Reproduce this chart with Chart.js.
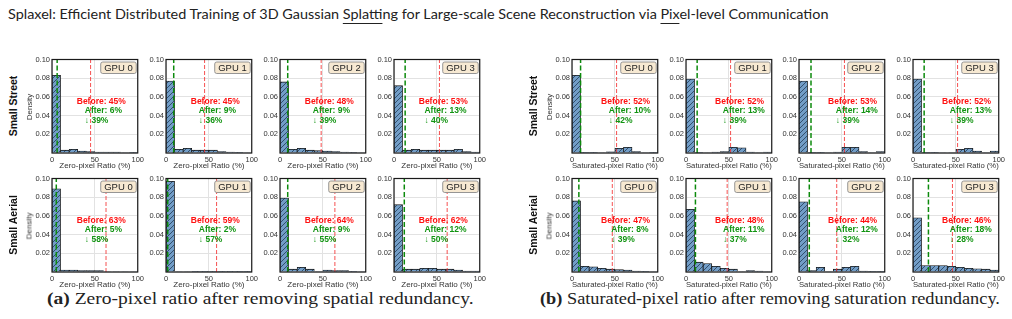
<!DOCTYPE html>
<html>
<head>
<meta charset="utf-8">
<script src="https://cdn.jsdelivr.net/npm/chart.js@4.4.0/dist/chart.umd.min.js"></script>
<style>
  body { margin: 0; width: 1012px; height: 319px; overflow: hidden; position: relative; background: #fff; font-family: "Liberation Sans", Arial, sans-serif; color: #222; }
  canvas.panel { position: absolute; }
  .rot { position: absolute; white-space: nowrap; transform: translate(-50%, -50%) rotate(-90deg); }
  .row-name { font-weight: bold; font-size: 10.5px; color: #111; }
  .dens { font-size: 8px; color: #333; }
  .fit { position: absolute; white-space: nowrap; transform-origin: left center; }
  #head { left: 8px; top: 7px; font-family: Lato, "Open Sans", sans-serif; font-size: 14px; line-height: 14px; color: #222; }
  #head u { text-decoration: underline; text-underline-offset: 4px; text-decoration-thickness: 1px; }
  .cap { top: 291px; font-family: "Liberation Serif", "DejaVu Serif", serif; font-size: 16px; line-height: 16px; color: #222; }
</style>
</head>
<body>
<div id="head" class="fit" data-w="820">Splaxel: Efficient Distributed Training of 3D Gaussian <u>Splat</u>ting for Large-scale Scene Reconstruction via <u>Pix</u>el-level Communication</div>
<div id="capA" class="fit cap" data-w="426" data-cx="260"><b>(a)</b> Zero-pixel ratio after removing spatial redundancy.</div>
<div id="capB" class="fit cap" data-w="460" data-cx="770"><b>(b)</b> Saturated-pixel ratio after removing saturation redundancy.</div>

<script>
// bin centres of the 10 histogram bins (width 10 %)
const binCenters = [5, 15, 25, 35, 45, 55, 65, 75, 85, 95];
const gpuNames = ['GPU 0', 'GPU 1', 'GPU 2', 'GPU 3'];
const rowNames = ['Small Street', 'Small Aerial'];
const xTitles = ['Zero-pixel Ratio (%)', 'Saturated-pixel Ratio (%)'];
const yTickStep = 0.02;
const yMax = 0.1;

// (a) zero-pixel ratio densities
const zeroStreet = [
  [0.083, 0.003, 0.004, 0.002, 0.0015, 0.001, 0.001, 0.001, 0.0005, 0.0003],
  [0.077, 0.004, 0.005, 0.003, 0.003, 0.003, 0.0015, 0.001, 0.0007, 0.0005],
  [0.076, 0.004, 0.005, 0.003, 0.0025, 0.002, 0.0015, 0.001, 0.0007, 0.0005],
  [0.072, 0.003, 0.004, 0.003, 0.003, 0.003, 0.003, 0.004, 0.0015, 0.001]
];
const zeroStreetBefore = [45, 45, 48, 53];
const zeroStreetAfter = [6, 9, 9, 13];

const zeroAerial = [
  [0.089, 0.002, 0.002, 0.0015, 0.0015, 0.0015, 0.0005, 0.0005, 0.0005, 0.0005],
  [0.097, 0.0005, 0.0005, 0.0004, 0.0004, 0.0003, 0.0003, 0.0003, 0.0003, 0.0003],
  [0.079, 0.003, 0.005, 0.003, 0.0005, 0.002, 0.0015, 0.0015, 0.0008, 0.0005],
  [0.072, 0.003, 0.003, 0.004, 0.004, 0.003, 0.003, 0.002, 0.001, 0.001]
];
const zeroAerialBefore = [63, 59, 64, 62];
const zeroAerialAfter = [5, 2, 9, 12];

// (b) saturated-pixel ratio densities
const satStreet = [
  [0.083, 0.0003, 0.0003, 0.0005, 0.0012, 0.005, 0.006, 0.0015, 0.0005, 0.0003],
  [0.079, 0.0003, 0.0005, 0.001, 0.0015, 0.006, 0.0055, 0.001, 0.0005, 0.001],
  [0.077, 0.0003, 0.0003, 0.0005, 0.001, 0.006, 0.006, 0.0015, 0.0005, 0.0015],
  [0.079, 0.0003, 0.0003, 0.0005, 0.0005, 0.004, 0.005, 0.002, 0.0005, 0.002]
];
const satStreetBefore = [52, 52, 53, 52];
const satStreetAfter = [10, 13, 14, 13];

const satAerial = [
  [0.076, 0.006, 0.0055, 0.004, 0.003, 0.0025, 0.002, 0.001, 0.0007, 0.0005],
  [0.067, 0.0105, 0.009, 0.006, 0.004, 0.003, 0.0005, 0.0015, 0.001, 0.0005],
  [0.075, 0.0015, 0.005, 0.0005, 0.003, 0.005, 0.006, 0.001, 0.0003, 0.0003],
  [0.058, 0.007, 0.007, 0.007, 0.006, 0.005, 0.004, 0.0035, 0.003, 0.002]
];
const satAerialBefore = [47, 48, 44, 46];
const satAerialAfter = [8, 11, 12, 18];

Chart.defaults.font.family = '"Liberation Sans", Arial, sans-serif';

const PLOT_W = 86, PLOT_H = 94;
const PAD_L = 24, PAD_T = 6, PAD_R = 8, PAD_B = 22;
const colsA = [52, 166, 280, 394];
const colsB = [572, 686, 799, 913];
const rowTops = [59, 178];

function hatchFor(ctx) {
  const c = document.createElement('canvas');
  c.width = 5; c.height = 5;
  const g = c.getContext('2d');
  g.fillStyle = '#729dc7';
  g.fillRect(0, 0, 5, 5);
  g.strokeStyle = '#2a4662';
  g.lineWidth = 0.9;
  g.beginPath();
  g.moveTo(0, 5); g.lineTo(5, 0);
  g.moveTo(-1, 1); g.lineTo(1, -1);
  g.moveTo(4, 6); g.lineTo(6, 4);
  g.stroke();
  return ctx.createPattern(c, 'repeat');
}

const decoPlugin = {
  id: 'deco',
  afterDraw(chart, args, o) {
    const ctx = chart.ctx;
    const a = chart.chartArea;
    const w = a.right - a.left, h = a.bottom - a.top;
    ctx.save();
    // full frame
    ctx.strokeStyle = '#1a1a1a';
    ctx.lineWidth = 1.2;
    ctx.strokeRect(a.left, a.top, w, h);

    // before / after annotation
    ctx.font = 'bold 8.5px "Liberation Sans", Arial, sans-serif';
    ctx.textBaseline = 'middle';
    ctx.fillStyle = '#ff1111';
    ctx.textAlign = 'center';
    ctx.fillText('Before: ' + o.before + '%', a.left + o.redX * w, a.top + 0.45 * h);
    const l1 = 'After: ' + o.after + '%';
    const l2 = '\u2193 ' + (o.before - o.after) + '%';
    const bw = Math.max(ctx.measureText(l1).width, ctx.measureText(l2).width);
    const gx = a.left + o.greenX * w - bw / 2;
    ctx.fillStyle = '#129412';
    ctx.textAlign = 'left';
    ctx.fillText(l1, gx, a.top + 0.547 * h);
    ctx.fillText(l2, gx, a.top + 0.65 * h);

    // GPU label box
    ctx.font = '9.5px "Liberation Sans", Arial, sans-serif';
    const tw = ctx.measureText(o.gpu).width;
    const bwid = tw + 7, bh = 11.5;
    const bx = a.right - 1.5 - bwid, by = a.top + 2.5;
    ctx.beginPath();
    ctx.roundRect(bx, by, bwid, bh, 2);
    ctx.fillStyle = '#f7e9d2';
    ctx.fill();
    ctx.strokeStyle = '#8a8a8a';
    ctx.lineWidth = 0.9;
    ctx.stroke();
    ctx.fillStyle = '#222';
    ctx.textAlign = 'center';
    ctx.fillText(o.gpu, bx + bwid / 2, by + bh / 2 + 0.5);
    ctx.restore();
  }
};

function makePanel(left, top, vals, before, after, gpu, xTitle, redX, greenX) {
  const cv = document.createElement('canvas');
  cv.className = 'panel';
  const cw = PLOT_W + PAD_L + PAD_R, ch = PLOT_H + PAD_T + PAD_B;
  cv.width = cw; cv.height = ch;
  cv.style.width = cw + 'px'; cv.style.height = ch + 'px';
  cv.style.left = (left - PAD_L) + 'px';
  cv.style.top = (top - PAD_T) + 'px';
  document.body.appendChild(cv);
  const ctx = cv.getContext('2d');

  new Chart(cv, {
    type: 'bar',
    data: {
      datasets: [
        {
          type: 'line',
          data: [{ x: after, y: 0 }, { x: after, y: yMax }],
          borderColor: '#0c8a0c', borderWidth: 1.5, borderDash: [5, 2.5],
          pointRadius: 0, order: 0
        },
        {
          type: 'line',
          data: [{ x: before, y: 0 }, { x: before, y: yMax }],
          borderColor: 'rgba(245,50,50,0.85)', borderWidth: 1, borderDash: [4, 2],
          pointRadius: 0, order: 1
        },
        {
          type: 'bar',
          data: vals.map((v, i) => ({ x: binCenters[i], y: v })),
          backgroundColor: hatchFor(ctx),
          borderColor: '#161616',
          borderWidth: 0.8,
          barPercentage: 1,
          categoryPercentage: 1,
          order: 2
        }
      ]
    },
    options: {
      responsive: false,
      animation: false,
      devicePixelRatio: 1,
      layout: { padding: { top: PAD_T, right: PAD_R, left: 0, bottom: 0 } },
      plugins: {
        legend: { display: false },
        tooltip: { enabled: false },
        deco: { gpu, before, after, redX, greenX }
      },
      scales: {
        x: {
          type: 'linear', min: 0, max: 100, offset: false,
          ticks: { stepSize: 50, padding: 2, maxRotation: 0, autoSkip: false, font: { size: 7.5 }, color: '#333' },
          grid: { color: '#e2e2e2', drawTicks: false, offset: false },
          border: { display: false },
          title: { display: true, text: xTitle, font: { size: 8 }, color: '#333', padding: { top: 0, bottom: 4 } },
          afterFit(s) { s.height = PAD_B; }
        },
        y: {
          min: 0, max: yMax,
          ticks: {
            stepSize: yTickStep, padding: 2, font: { size: 7.5 }, color: '#333',
            callback: v => (Math.abs(v) < 1e-9 ? '' : v.toFixed(2))
          },
          grid: { color: '#e2e2e2', drawTicks: false },
          border: { display: false },
          afterFit(s) { s.width = PAD_L; }
        }
      }
    },
    plugins: [decoPlugin]
  });
}

function addRot(text, cls, cx, cy) {
  const d = document.createElement('div');
  d.className = 'rot ' + cls;
  d.textContent = text;
  d.style.left = cx + 'px';
  d.style.top = cy + 'px';
  document.body.appendChild(d);
}

const groups = [
  { cols: colsA, rows: [[zeroStreet, zeroStreetBefore, zeroStreetAfter], [zeroAerial, zeroAerialBefore, zeroAerialAfter]], title: xTitles[0], redX: 0.575, greenX: 0.6, labelX: 13, densX: 29 },
  { cols: colsB, rows: [[satStreet, satStreetBefore, satStreetAfter], [satAerial, satAerialBefore, satAerialAfter]], title: xTitles[1], redX: 0.625, greenX: 0.675, labelX: 533, densX: 549 }
];

groups.forEach(g => {
  g.rows.forEach((r, ri) => {
    const [vals, bef, aft] = r;
    g.cols.forEach((cx, ci) => {
      makePanel(cx, rowTops[ri], vals[ci], bef[ci], aft[ci], gpuNames[ci], g.title, g.redX, g.greenX);
    });
    const mid = rowTops[ri] + PLOT_H / 2;
    addRot(rowNames[ri], 'row-name', g.labelX, mid);
    addRot('Density', 'dens', g.densX, mid + 1);
  });
});

// stretch header / captions to the widths they occupy in the figure
document.querySelectorAll('.fit').forEach(el => {
  const target = +el.dataset.w;
  const sx = target / el.scrollWidth;
  if (el.dataset.cx) el.style.left = (+el.dataset.cx - target / 2) + 'px';
  el.style.transform = 'scaleX(' + sx.toFixed(4) + ')';
});
</script>
</body>
</html>
